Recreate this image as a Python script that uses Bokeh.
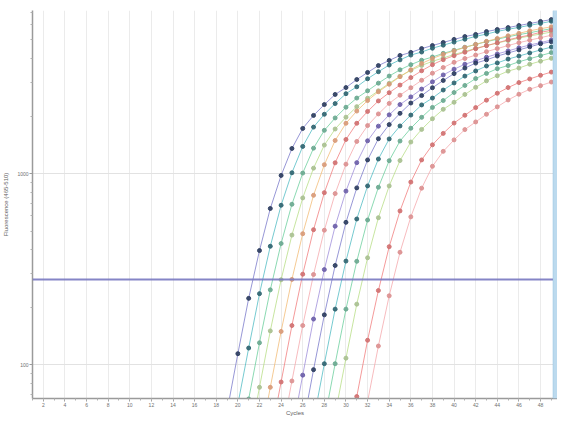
from bokeh.plotting import figure
from bokeh.models import Range1d, FixedTicker, Span, BoxAnnotation, NumeralTickFormatter
from bokeh.embed import file_html
from bokeh.resources import INLINE

# ---- data ----
x_tick_values = list(range(2, 50, 2))
y_tick_values = [100, 1000]
threshold_level = 278.6

first_cycle = [18, 19, 20, 21, 22, 23, 24, 25, 26, 27, 28, 28, 30, 31]

curve_a = [29, 57, 114, 222, 395, 656, 977, 1352, 1722, 2014, 2296, 2594, 2818, 3105, 3381, 3673, 3908,
           4150, 4305, 4508, 4677, 4853, 5035, 5212, 5346, 5534, 5675, 5808, 5957, 6095, 6252, 6397, 6561]
curve_b = [31, 62, 122, 235, 416, 682, 1009, 1386, 1750, 2042, 2323, 2618, 2844, 3133, 3412, 3698, 3936,
           4169, 4325, 4529, 4699, 4875, 5047, 5224, 5370, 5546, 5689, 5821, 5970, 6109, 6266, 6412]
curve_c = [33, 66, 130, 246, 430, 690, 1005, 1358, 1683, 1954, 2223, 2483, 2710, 2972, 3236, 3491, 3715,
           3917, 4074, 4256, 4416, 4581, 4742, 4898, 5047, 5200, 5333, 5458, 5598, 5728, 5875]
curve_d = [38, 76, 150, 278, 476, 745, 1067, 1409, 1710, 1972, 2239, 2477, 2710, 2965, 3228, 3467, 3681,
           3864, 4027, 4198, 4355, 4519, 4677, 4819, 4966, 5117, 5248, 5370, 5508, 5636]
curve_e = [38, 76, 149, 279, 484, 769, 1112, 1489, 1832, 2123, 2410, 2679, 2931, 3214, 3491, 3767, 3999,
           4207, 4385, 4571, 4742, 4920, 5093, 5260, 5420, 5585, 5728, 5861, 6012]
curve_f = [41, 81, 160, 297, 508, 794, 1138, 1507, 1832, 2113, 2399, 2649, 2904, 3177, 3451, 3715, 3945,
           4140, 4315, 4498, 4667, 4831, 5012, 5164, 5309, 5483, 5623, 5754]
curve_g = [41, 82, 160, 296, 505, 785, 1119, 1472, 1782, 2051, 2328, 2570, 2812, 3076, 3350, 3589, 3819,
           3999, 4169, 4345, 4508, 4677, 4842, 4989, 5140, 5297, 5420]
curve_h = [44, 88, 173, 314, 530, 809, 1140, 1483, 1770, 2028, 2296, 2518, 2767, 3020, 3281, 3516, 3733,
           3890, 4064, 4227, 4385, 4550, 4710, 4842, 5000, 5140]
curve_i = [47, 94, 182, 330, 555, 841, 1178, 1521, 1803, 2065, 2339, 2559, 2812, 3069, 3334, 3565, 3784,
           3936, 4121, 4276, 4436, 4603, 4775, 4898, 5070]
curve_j = [51, 101, 195, 348, 578, 861, 1191, 1517, 1774, 2023, 2286, 2483, 2735, 2979, 3236, 3443, 3656,
           3793, 3972, 4121, 4276, 4436, 4592, 4710]
curve_k = [51, 101, 195, 347, 571, 847, 1167, 1479, 1726, 1968, 2218, 2410, 2655, 2891, 3141, 3342, 3540,
           3673, 3846, 3990, 4140, 4295, 4446]
curve_l = [28, 55, 108, 207, 362, 587, 861, 1169, 1462, 1702, 1936, 2168, 2360, 2594, 2825, 3055, 3251,
           3436, 3565, 3733, 3873, 4009, 4159]
curve_m = [34, 68, 134, 244, 414, 637, 902, 1178, 1413, 1622, 1837, 2018, 2213, 2421, 2630, 2818, 2992,
           3126, 3266, 3396, 3524]
curve_n = [32, 64, 125, 229, 387, 593, 838, 1091, 1306, 1500, 1698, 1862, 2042, 2234, 2427, 2600, 2761,
           2884, 3013, 3133]

curves = [curve_a, curve_b, curve_c, curve_d, curve_e, curve_f, curve_g,
          curve_h, curve_i, curve_j, curve_k, curve_l, curve_m, curve_n]

line_colors = ["#7474c8", "#48b8c0", "#64cc98", "#b4dc80", "#f2b870", "#f07878", "#f4a4a8",
               "#9a88d8", "#7474c8", "#48b8c0", "#64cc98", "#b4dc80", "#f07878", "#f4a4a8"]
marker_colors = ["#2b3c5e", "#2f6470", "#6aa890", "#a8c090", "#d89a78", "#d07070", "#dc9090",
                 "#6c5ea8", "#2b3c5e", "#2f6470", "#6aa890", "#a8c090", "#d07070", "#dc9090"]

# ---- figure ----
FONT = "Liberation Sans"
p = figure(width=557, height=418, x_range=Range1d(1, 49.57), y_range=Range1d(66.4, 7135),
           y_axis_type="log", output_backend="svg", toolbar_location=None,
           min_border_left=30, min_border_right=0, min_border_top=10, min_border_bottom=20)
p.outline_line_color = None
p.background_fill_color = "white"
p.border_fill_color = "white"

p.xaxis.ticker = FixedTicker(ticks=x_tick_values, minor_ticks=list(range(1, 50)))
p.yaxis.ticker = FixedTicker(ticks=y_tick_values,
                             minor_ticks=[70, 80, 90, 200, 300, 400, 500, 600, 700, 800, 900,
                                          2000, 3000, 4000, 5000, 6000, 7000])
p.yaxis.formatter = NumeralTickFormatter(format="0")
p.xgrid.ticker = FixedTicker(ticks=x_tick_values)
p.ygrid.ticker = FixedTicker(ticks=y_tick_values)
p.xgrid.grid_line_color = "#ebebeb"
p.ygrid.grid_line_color = "#e2e2e2"

for ax in (p.xaxis[0], p.yaxis[0]):
    ax.axis_line_color = "#9a9a9a"
    ax.axis_line_width = 1.5
    ax.major_tick_line_color = "#9a9a9a"
    ax.minor_tick_line_color = "#b0b0b0"
    ax.major_tick_in = 0
    ax.major_tick_out = 3
    ax.minor_tick_in = 0
    ax.minor_tick_out = 2
    ax.major_label_text_font = FONT
    ax.major_label_text_font_size = "5px"
    ax.major_label_text_color = "#707070"
    ax.major_label_standoff = 1
    ax.axis_label_text_font = FONT
    ax.axis_label_text_font_size = "6px"
    ax.axis_label_text_font_style = "normal"
    ax.axis_label_text_color = "#606060"
    ax.axis_label_standoff = 0

p.yaxis.axis_label_standoff = 5
p.xaxis.axis_label = "Cycles"
p.yaxis.axis_label = "Fluorescence (465-510)"

for start, vals, lc, mc in zip(first_cycle, curves, line_colors, marker_colors):
    xs = list(range(start, start + len(vals)))
    p.line(xs, vals, line_color=lc, line_width=1, line_alpha=0.75)
for start, vals, lc, mc in zip(first_cycle, curves, line_colors, marker_colors):
    xs = list(range(start, start + len(vals)))
    p.scatter(xs, vals, size=4, fill_color=mc, line_color=mc, fill_alpha=0.9, line_alpha=0.9)

p.add_layout(Span(location=threshold_level, dimension="width", line_color="#7878c0",
                  line_width=2, line_alpha=0.9))
p.add_layout(BoxAnnotation(left=49.15, fill_color="#bcdaee", fill_alpha=1.0,
                           line_color="#78aed4", line_width=1, level="overlay"))

open("out.html", "w").write(file_html(p, INLINE))
